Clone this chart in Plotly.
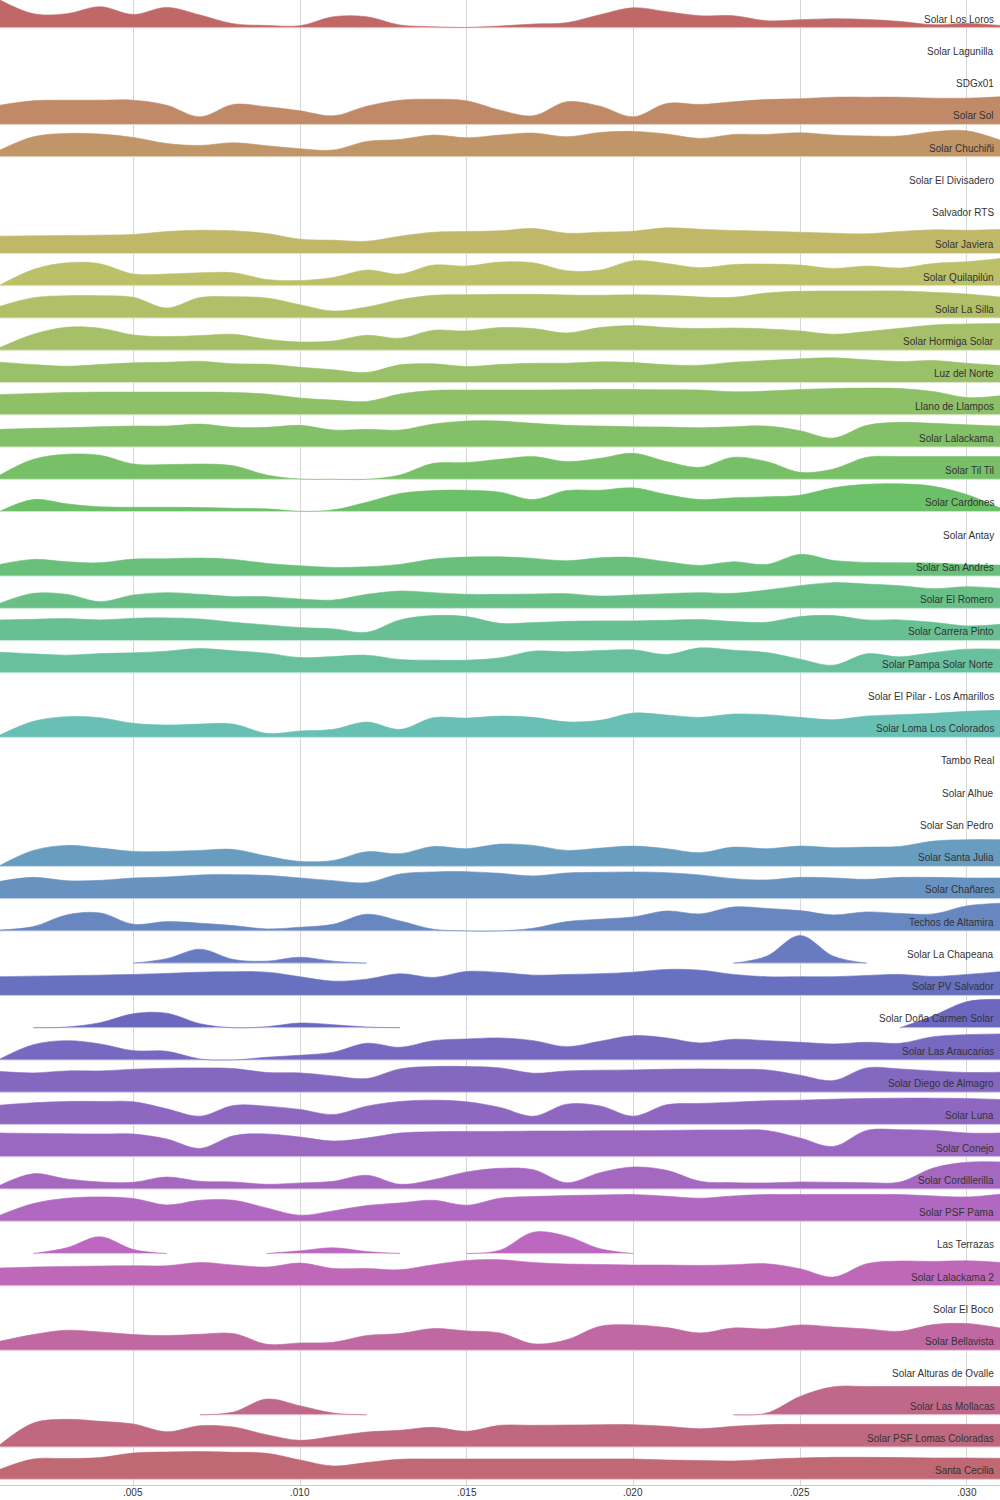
import colorsys
import plotly.graph_objects as go

# ---------------- data ----------------
x_vals = [0.001, 0.002, 0.003, 0.004, 0.005, 0.006, 0.007, 0.008, 0.009, 0.010,
          0.011, 0.012, 0.013, 0.014, 0.015, 0.016, 0.017, 0.018, 0.019, 0.020,
          0.021, 0.022, 0.023, 0.024, 0.025, 0.026, 0.027, 0.028, 0.029, 0.030, 0.031]

names = [
    "Solar Los Loros", "Solar Lagunilla", "SDGx01", "Solar Sol", "Solar Chuchiñi",
    "Solar El Divisadero", "Salvador RTS", "Solar Javiera", "Solar Quilapilún",
    "Solar La Silla", "Solar Hormiga Solar", "Luz del Norte", "Llano de Llampos",
    "Solar Lalackama", "Solar Til Til", "Solar Cardones", "Solar Antay",
    "Solar San Andrés", "Solar El Romero", "Solar Carrera Pinto",
    "Solar Pampa Solar Norte", "Solar El Pilar - Los Amarillos",
    "Solar Loma Los Colorados", "Tambo Real", "Solar Alhue", "Solar San Pedro",
    "Solar Santa Julia", "Solar Chañares", "Techos de Altamira", "Solar La Chapeana",
    "Solar PV Salvador", "Solar Doña Carmen Solar", "Solar Las Araucarias",
    "Solar Diego de Almagro", "Solar Luna", "Solar Conejo", "Solar Cordillerilla",
    "Solar PSF Pama", "Las Terrazas", "Solar Lalackama 2", "Solar El Boco",
    "Solar Bellavista", "Solar Alturas de Ovalle", "Solar Las Mollacas",
    "Solar PSF Lomas Coloradas", "Santa Cecilia",
]

N_ = None
los_loros = [27.7, 14, 14, 21, 13.3, 20.3, 12.7, 4, 2.3, 2, 11, 11, 2.7, 1, 0.3, 1.7, 3.7, 5, 13, 20, 16, 12, 12, 7, 8, 9, 8.3, 6.3, 3, 4.3, 2.3]
lagunilla = []
sdgx01 = []
sol = [19.3, 23.7, 24.3, 24.3, 24.3, 19.3, 7.7, 20, 17.7, 13.7, 8.7, 18.3, 24.3, 25.3, 23.7, 14.3, 8.7, 22.7, 18.3, 7.7, 21, 20, 22.7, 25, 25.7, 27.3, 27.3, 27.3, 26.3, 26.3, 27.7]
chuchini = [6.7, 20, 23.3, 22.7, 19.3, 13.3, 11.3, 14, 11, 8, 6.7, 15.3, 17.3, 21.7, 19, 21.7, 23.7, 20, 24.3, 25.3, 22.7, 18.3, 22.3, 22.3, 24, 21.7, 20.7, 20.7, 25, 26, 16.7]
el_divisadero = []
salvador_rts = []
javiera = [17.3, 17.7, 18, 18.3, 19, 22, 23.3, 22.7, 20, 14.3, 13.3, 12.3, 17.3, 21.3, 22, 22.7, 25, 20.3, 21.3, 22.3, 25.7, 24.3, 23, 22.3, 21.3, 20.3, 19.7, 22, 23.7, 23.3, 24]
quilapilun = [0.7, 16.3, 23, 22, 11.7, 11.7, 13, 13, 6.3, 5.3, 8.3, 15.7, 11.7, 20.7, 19.7, 23.7, 23, 15, 15.7, 25, 22.3, 18, 21.3, 21.7, 20.7, 17.3, 19.7, 17.7, 22.3, 24, 27.3]
la_silla = [11.7, 20.3, 22.3, 22.3, 20.7, 10, 20.5, 21.3, 20, 13.3, 7, 11, 18.3, 22.7, 23.3, 23.7, 23.7, 23, 22.7, 23.3, 22.7, 21, 20.7, 25, 26.7, 27, 27, 27, 25.7, 24, 21]
hormiga_solar = [2.7, 16, 23, 22, 15.3, 13.7, 14.7, 16, 11, 8.3, 9.3, 15, 12, 20, 19.3, 22.7, 21.7, 17.3, 22.7, 24.7, 22.7, 21.7, 22.3, 21.3, 19.3, 16, 18.7, 22, 25.3, 26.3, 26.7]
luz_del_norte = [20.3, 18, 16.3, 18, 19.7, 20.3, 21.3, 18.7, 18.3, 15.3, 12.7, 10, 17.7, 18.7, 16, 18, 19.3, 19.3, 20.7, 20, 17.7, 17.3, 20.3, 22, 23.7, 24.7, 22.7, 21, 22, 19.3, 17]
llano_de_llampos = [20.3, 21.3, 22.3, 22.7, 22.7, 22.7, 22.7, 22.3, 20.7, 16.7, 14.7, 13.3, 20.7, 24.3, 24.7, 24.7, 24.7, 25, 25.3, 25.3, 25, 24.7, 23, 23.7, 25.3, 26.3, 26.7, 26.3, 23.3, 17.3, 19]
lalackama = [17.7, 18.7, 19.3, 20.3, 21, 21, 23, 19.7, 19.7, 21.7, 17, 17.7, 17, 23, 26, 26, 23.7, 21.7, 21, 20.3, 20, 19.3, 20.3, 21, 16.3, 9, 21.7, 24.7, 23.7, 22.3, 21]
til_til = [4.3, 20, 25, 24, 15.3, 14.7, 15.3, 13.5, 4.3, 0.3, 0, 0, 4.3, 16, 16.7, 20, 22.7, 17.7, 21, 26, 17.7, 12, 22, 17.7, 7, 10.3, 22, 22.7, 22.7, 22.7, 22.7]
cardones = [0.3, 12, 7.7, 4.7, 4.3, 4.3, 4, 3.3, 2.7, 0.3, 1.7, 9.3, 18, 21, 21.3, 19.3, 12, 21, 21.3, 23.7, 17, 12, 13.7, 14.7, 16.3, 23.7, 27.3, 27.7, 25.3, 17, 3.7]
antay = []
san_andres = [11.7, 16.7, 14.3, 13.3, 17, 17.3, 18, 16.7, 12.7, 10.3, 8.7, 9.3, 11.7, 17, 19, 19.3, 17.7, 15.3, 18.3, 18.7, 14.3, 10.7, 14.3, 11.7, 21.7, 15.7, 13.7, 13.3, 13, 11.7, 11]
el_romero = [5, 15, 14, 6.7, 13.3, 15.7, 14, 11.7, 11.7, 9.3, 8.3, 14, 17.3, 15.7, 14, 14, 14.3, 14.7, 12.3, 13.3, 14.7, 15.7, 15, 18.3, 22.7, 25.7, 24.3, 22.7, 19.7, 21.7, 20]
carrera_pinto = [20.7, 21.3, 22, 20.7, 22.3, 22.7, 21.7, 18.3, 15.7, 13, 11.7, 8.3, 20.7, 25, 24, 17.3, 18, 19.3, 19.7, 19.7, 20.3, 21, 19, 18.3, 24, 25, 20.7, 20.7, 18.3, 14.7, 16.3]
pampa_solar_norte = [20.7, 19, 17.7, 19.3, 20, 21.7, 24.3, 22, 19.7, 15.3, 16.3, 17.7, 13.3, 12.7, 12.7, 15, 21.7, 21, 22.3, 23, 18.3, 25, 22.7, 20.3, 13.7, 7.7, 19, 16, 20.3, 23.7, 23.7]
el_pilar = []
loma_los_colorados = [2.3, 16, 20.7, 19.7, 14, 12.3, 13.3, 13.3, 4, 6.3, 8, 15.3, 8, 19.7, 19.3, 21.3, 20, 15.5, 17, 24.3, 22.3, 20, 23.3, 22.7, 20, 17.7, 21.3, 22.7, 24, 26, 27]
tambo_real = []
alhue = []
san_pedro = []
santa_julia = [1, 16, 21, 18.3, 15, 15, 16, 17, 10.3, 5, 6, 14.7, 12.7, 20, 17.7, 22.3, 21, 16, 18.3, 20.3, 17.7, 13.7, 19.3, 17.7, 20.3, 18.7, 19.3, 20, 25.3, 26.7, 26.7]
chanares = [17.3, 21.3, 18, 18.3, 20.7, 21.7, 23.7, 24, 23.3, 20.7, 18, 16, 24.7, 26.7, 27, 25.3, 22.7, 25.7, 26.3, 26.7, 26, 23.7, 20, 18.7, 21.3, 20.7, 19.3, 21.3, 21.3, 20.7, 20.7]
techos_altamira = [1, 4.3, 16, 18, 6.7, 9.3, 7.7, 5.3, 2, 3.7, 6.7, 16.7, 10, 1.7, 0, 0, 2.7, 9.3, 11.7, 14, 20, 17, 24, 22.5, 20.3, 16, 19, 17.5, 17, 25, 27.7]
la_chapeana = [N_, N_, N_, N_, 0, 4.5, 14, 3.7, 2, 6, 2, 0, N_, N_, N_, N_, N_, N_, N_, N_, N_, N_, 0, 7, 27.7, 7, 0, N_, N_, N_, N_]
pv_salvador = [18.7, 19.3, 19.7, 20.3, 21, 22, 23.3, 23.7, 23.3, 18.7, 14.3, 16.3, 21.7, 18, 24, 23, 20.3, 21, 21.7, 23.3, 26, 25.3, 21, 18.7, 18.7, 18.7, 20, 21, 19, 21, 23.7]
dona_carmen = [N_, 0, 0.7, 5, 14, 14.5, 4, 0, 1, 4.7, 3, 0.7, 0, N_, N_, N_, N_, N_, N_, N_, N_, N_, N_, N_, N_, N_, N_, 0, 12, 26, 28.3]
las_araucarias = [1, 15.3, 19.3, 16, 9.3, 8.7, 1, 0, 2.7, 4.7, 7.7, 16.7, 12.7, 19.3, 21, 22, 19.3, 13.3, 18.7, 24.3, 22, 17, 20.7, 19.3, 17.7, 16, 17.7, 16.7, 23.3, 25.3, 26]
diego_de_almagro = [20.7, 19.3, 21.3, 21.3, 23, 24, 24.3, 23.7, 19.7, 19.3, 16.3, 13.7, 23.3, 25.7, 25.7, 24.3, 19, 21.3, 22, 22.3, 23, 23.3, 23, 22.3, 17, 11.7, 24.3, 23.3, 21.3, 19.7, 20]
luna = [19.3, 21.7, 23, 23, 22.7, 15.7, 8.3, 19, 18.3, 15, 10, 18.3, 23, 24.3, 22.7, 17, 8.3, 20.3, 18.5, 8.3, 19.7, 21, 22.3, 23.7, 24.3, 25.3, 26, 26.3, 26.3, 26, 25]
conejo = [23.7, 23.3, 23, 22.7, 22.7, 17.7, 8.3, 21, 22.7, 19.7, 15.7, 18.7, 23.7, 25, 25.3, 25.3, 25.7, 25.7, 26, 26, 26.3, 26.7, 26.7, 26.3, 18.7, 10.3, 26.3, 27, 26.3, 23.7, 23.7]
cordillerilla = [3.7, 15.3, 10, 7, 6.7, 12, 7.7, 7, 4.7, 6, 7.7, 13.7, 4.7, 9.3, 17, 20.7, 19.3, 6.3, 16.3, 22, 18.7, 7.7, 6.3, 6, 7, 6.7, 6.3, 7, 21, 26.7, 27]
psf_pama = [6, 17.7, 23, 24.3, 22.7, 16.3, 21, 21, 13.3, 6, 10.3, 15.7, 18.3, 21, 16, 23, 24.7, 25.7, 26.3, 26.7, 25, 23, 25.3, 26.7, 26.7, 26.7, 26.7, 26.7, 25.3, 24.3, 27]
las_terrazas = [N_, 0, 5.7, 16.7, 4, 0, N_, N_, 0, 2.7, 5.7, 2, 0, N_, 0, 3.3, 21.3, 17.3, 4.7, 0, N_, N_, N_, N_, N_, N_, N_, N_, N_, N_, N_]
lalackama_2 = [17.7, 18.7, 19.3, 19.7, 20, 20, 23.3, 20.7, 18.7, 22.7, 17.3, 17.3, 16, 21, 25.3, 26, 23.3, 21.7, 21.3, 20.7, 20.7, 20.3, 21, 22, 17, 8.7, 22, 24.7, 24.3, 25, 23.3]
el_boco = []
bellavista = [9, 15.7, 20, 18.3, 15.7, 14.7, 16, 16.7, 6, 7.3, 8, 14.7, 16.7, 21.7, 19.3, 17.3, 6.5, 10.5, 24, 25.3, 22.7, 17.3, 22.3, 21.3, 25.3, 23.3, 21.3, 19, 25.7, 26.7, 22.3]
alturas_de_ovalle = []
las_mollacas = [N_, N_, N_, N_, N_, N_, 0, 2.7, 15.7, 9, 1.7, 0, N_, N_, N_, N_, N_, N_, N_, N_, N_, N_, 0, 1.7, 18.3, 28, 28.3, 28.3, 28.3, 28.3, 28.3]
psf_lomas_coloradas = [2.3, 24, 27.7, 25.7, 23, 15.3, 21.3, 20, 12.3, 6.7, 10.7, 15, 16.7, 19.7, 15.7, 21.7, 21.7, 22, 22.3, 22.3, 20.7, 18.3, 20.7, 22.3, 22.7, 22.7, 22.7, 22.7, 22.7, 22.7, 22.7]
santa_cecilia = [10, 20.3, 20.7, 21.7, 26.3, 27.3, 27.7, 27, 26, 19.3, 13.3, 16.7, 20, 20.3, 20.3, 20.3, 20.3, 20.3, 20.3, 20.3, 19.3, 18.7, 18.3, 20, 21.3, 22, 22, 21.7, 21.3, 21.3, 21]

series = [
    los_loros, lagunilla, sdgx01, sol, chuchini, el_divisadero, salvador_rts,
    javiera, quilapilun, la_silla, hormiga_solar, luz_del_norte, llano_de_llampos,
    lalackama, til_til, cardones, antay, san_andres, el_romero, carrera_pinto,
    pampa_solar_norte, el_pilar, loma_los_colorados, tambo_real, alhue, san_pedro,
    santa_julia, chanares, techos_altamira, la_chapeana, pv_salvador, dona_carmen,
    las_araucarias, diego_de_almagro, luna, conejo, cordillerilla, psf_pama,
    las_terrazas, lalackama_2, el_boco, bellavista, alturas_de_ovalle, las_mollacas,
    psf_lomas_coloradas, santa_cecilia,
]

tick_vals = [0.005, 0.010, 0.015, 0.020, 0.025, 0.030]
tick_text = [".005", ".010", ".015", ".020", ".025", ".030"]

# ---------------- styling ----------------
ROW_PX = 32.26          # pixel height of one ridge row
FONT = "Arial, Liberation Sans, sans-serif"


def hsl(h, s, l):
    r, g, b = colorsys.hls_to_rgb(h, l, s)
    return "rgb(%d,%d,%d)" % (round(r * 255), round(g * 255), round(b * 255))


n = len(names)
fig = go.Figure()

for i, (name, vals) in enumerate(zip(names, series)):
    base = n - 1 - i
    fill = hsl(i / n, 0.41, 0.58)
    edge = hsl(i / n, 0.41, 0.85)
    segs, cur = [], []
    for xv, v in zip(x_vals, vals):
        if v is None:
            if cur:
                segs.append(cur)
                cur = []
        else:
            cur.append((xv, v))
    if cur:
        segs.append(cur)
    for seg in segs:
        xs = [p[0] for p in seg]
        ys = [base + p[1] / ROW_PX for p in seg]
        fig.add_trace(go.Scatter(
            x=xs, y=[base] * len(xs), mode="lines",
            line=dict(width=1, color=edge), hoverinfo="skip", showlegend=False))
        fig.add_trace(go.Scatter(
            x=xs, y=ys, mode="lines", name=name,
            line=dict(width=0.6, color=fill, shape="spline", smoothing=1),
            fill="tonexty", fillcolor=fill, showlegend=False))
    fig.add_annotation(
        x=0.030865, y=base + 8.7 / ROW_PX, xref="x", yref="y",
        text=name, showarrow=False, xanchor="right", yanchor="middle",
        font=dict(family=FONT, size=10, color="#333"))

# x tick labels as text placed just under the axis line
for tv, tt in zip(tick_vals, tick_text):
    fig.add_annotation(
        x=tv, y=0, xref="x", yref="paper", text=tt, showarrow=False,
        xanchor="center", yanchor="top", yshift=0,
        font=dict(family=FONT, size=10, color="#333"))

fig.update_layout(
    width=1000, height=1500,
    margin=dict(l=0, r=0, t=0, b=15),
    paper_bgcolor="white", plot_bgcolor="white",
    showlegend=False,
    xaxis=dict(
        range=[0.001, 0.031], tickvals=tick_vals, showticklabels=False,
        showgrid=True, gridcolor="#d6d6d6", gridwidth=1, zeroline=False,
        showline=True, linecolor="#cccccc", linewidth=1, ticks=""),
    yaxis=dict(
        range=[-0.177, 45.859], visible=False, showgrid=False, zeroline=False),
)

fig.write_html("out.html")
